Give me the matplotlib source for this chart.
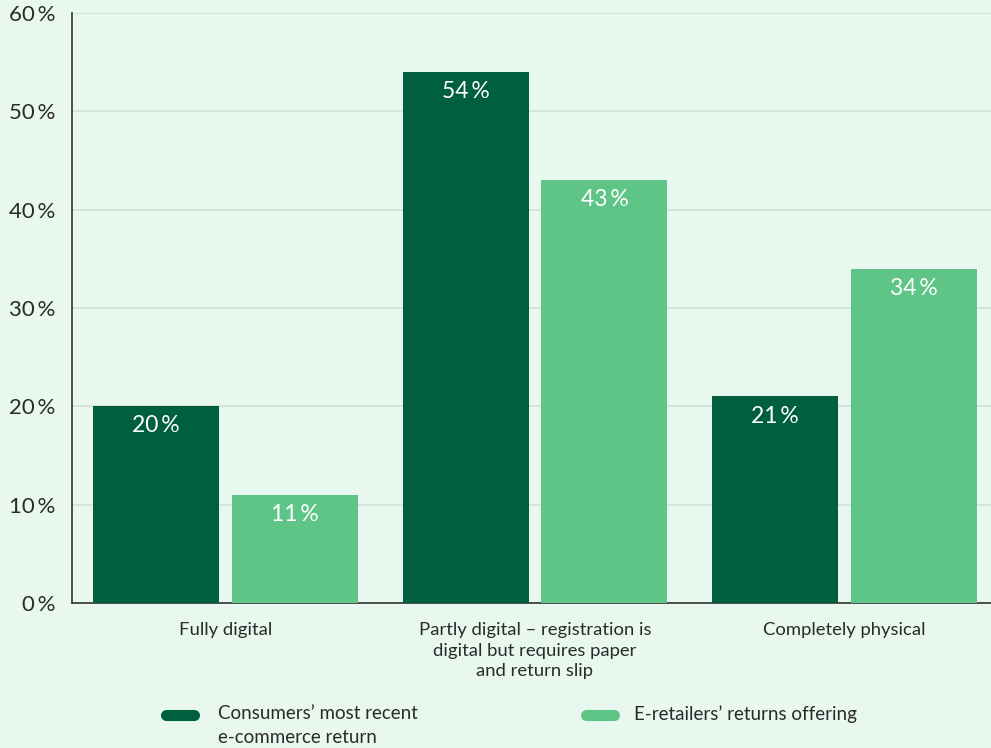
import matplotlib.pyplot as plt
from matplotlib.lines import Line2D
import numpy as np

plt.rcParams['font.family'] = ['Lato', 'DejaVu Sans']

categories = ['Fully digital',
              'Partly digital – registration is\ndigital but requires paper\nand return slip',
              'Completely physical']
consumers = [20, 54, 21]
retailers = [11, 43, 34]
series_names = ['Consumers’ most recent\ne-commerce return', 'E-retailers’ returns offering']
yticks = [0, 10, 20, 30, 40, 50, 60]

bg = '#e8f8ee'
dark = '#005f3f'
light = '#5ec586'

fig = plt.figure(figsize=(9.91, 7.48), dpi=100, facecolor=bg)
ax = fig.add_axes([0.0727, 0.1939, 0.9273, 0.7888], facecolor=bg)

x = np.arange(len(categories))
w = 0.4065
off = 0.2242
b1 = ax.bar(x - off, consumers, w, color=dark, zorder=3)
b2 = ax.bar(x + off, retailers, w, color=light, zorder=3)

for bars, vals in [(b1, consumers), (b2, retailers)]:
    for bar, v in zip(bars, vals):
        ax.text(bar.get_x() + bar.get_width() / 2, v - 2.0, f'{v}\u2009%',
                ha='center', va='center', color='white', fontsize=16.5, zorder=4)

ax.set_xlim(-0.495, 2.4726)
ax.set_ylim(0, 60)
ax.set_yticks(yticks)
ax.set_yticklabels([f'{t}\u2009%' for t in yticks], fontsize=16, color='#2a2a2a')
ax.tick_params(axis='y', length=0, pad=12)
ax.set_xticks(x)
ax.set_xticklabels(categories, fontsize=13.3, color='#2a2a2a', linespacing=1.32)
ax.tick_params(axis='x', length=0, pad=14)
ax.grid(axis='y', color='#cfe0d6', linewidth=1.2, zorder=0)
for s in ['top', 'right']:
    ax.spines[s].set_visible(False)
for s in ['left', 'bottom']:
    ax.spines[s].set_color('#333333')
    ax.spines[s].set_linewidth(1.2)

# legend drawn by hand so the marker lines up with the first text line
fh = 748
fw = 991
legend_items = [(dark, 166, 194, 218), (light, 586, 614, 634)]
for (col, x0, x1, tx), name in zip(legend_items, series_names):
    y = 1 - 715 / fh
    fig.add_artist(Line2D([x0 / fw, x1 / fw], [y, y], color=col, linewidth=8,
                          solid_capstyle='round', transform=fig.transFigure))
    fig.text(tx / fw, 1 - 705 / fh, name, ha='left', va='top', fontsize=13.5,
             color='#2a2a2a', linespacing=1.5)

fig.savefig('out.png', dpi=100, facecolor=bg)
